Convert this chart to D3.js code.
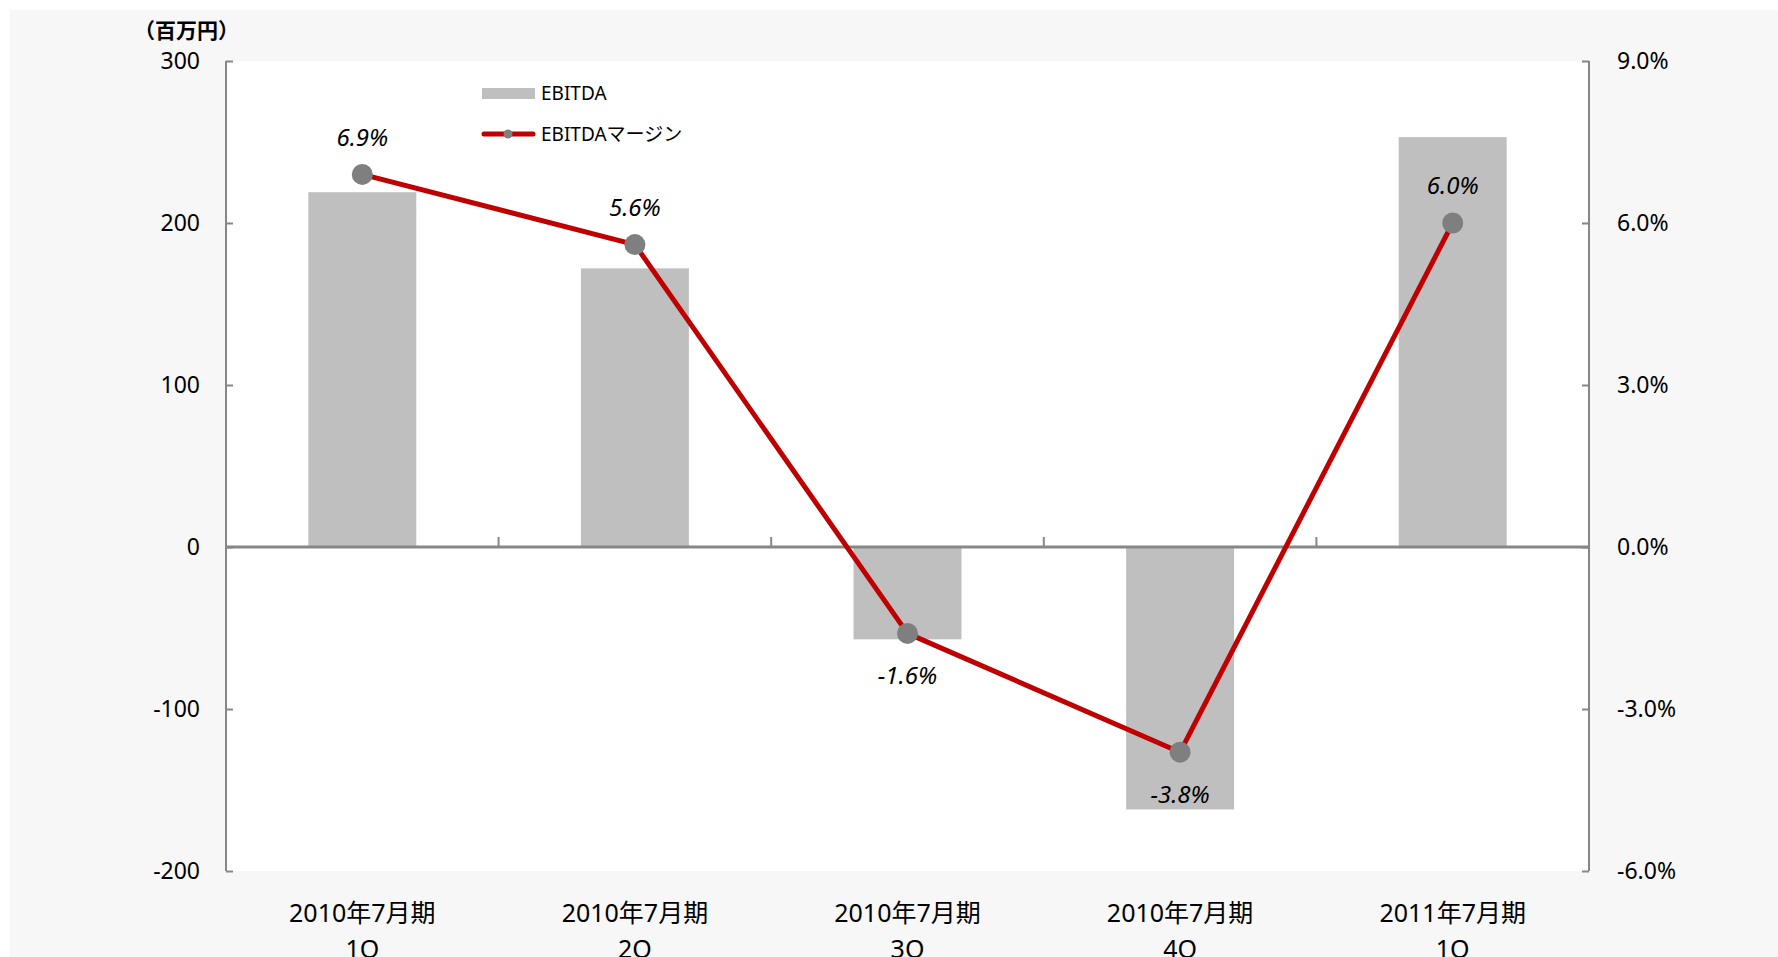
<!DOCTYPE html>
<html>
<head>
<meta charset="utf-8">
<script src="https://cdn.jsdelivr.net/npm/d3@7/dist/d3.min.js"></script>
<style>
  html, body { margin: 0; padding: 0; background: #ffffff; }
  svg { display: block; }
  text { font-family: "Noto Sans", "Noto Sans CJK JP", sans-serif; fill: #000; }
</style>
</head>
<body>
<svg id="chart" width="1778" height="957"></svg>
<script>
// ---- data ----
const categories = ["2010年7月期\n1Q", "2010年7月期\n2Q", "2010年7月期\n3Q", "2010年7月期\n4Q", "2011年7月期\n1Q"];
const ebitda = [219, 172, -57, -162, 253];          // 百万円
const margin = [6.9, 5.6, -1.6, -3.8, 6.0];         // %
const leftTicks = [-200, -100, 0, 100, 200, 300];
const rightTicks = [-6, -3, 0, 3, 6, 9];
const seriesNames = ["EBITDA", "EBITDAマージン"];
const unitLabel = "（百万円）";

// ---- layout ----
const W = 1778, H = 957;
const plot = { left: 226, right: 1589, top: 61, bottom: 871 };

const loc = d3.formatLocale({ decimal: ".", thousands: ",", grouping: [3], currency: ["", ""], minus: "-" });
const fmtInt = loc.format("d");
const fmtPct = v => loc.format(".1f")(v) + "%";

const svg = d3.select("#chart");

// backgrounds
svg.append("rect").attr("x", 10).attr("y", 10).attr("width", W - 10).attr("height", H - 10).attr("fill", "#f7f7f7");
svg.append("rect").attr("x", plot.left).attr("y", plot.top)
  .attr("width", plot.right - plot.left).attr("height", plot.bottom - plot.top).attr("fill", "#ffffff");

// scales
const x = d3.scaleBand().domain(d3.range(categories.length)).range([plot.left, plot.right]).paddingInner(0).paddingOuter(0);
const yL = d3.scaleLinear().domain([-200, 300]).range([plot.bottom, plot.top]);
const yR = d3.scaleLinear().domain([-6, 9]).range([plot.bottom, plot.top]);

const barW = x.bandwidth() * 0.396;
const axisColor = "#878787";

// bars
svg.append("g").selectAll("rect").data(ebitda).enter().append("rect")
  .attr("x", (d, i) => x(i) + x.bandwidth() / 2 - barW / 2)
  .attr("y", d => yL(Math.max(0, d)))
  .attr("width", barW)
  .attr("height", d => Math.abs(yL(d) - yL(0)))
  .attr("fill", "#bfbfbf");

// left axis (ticks inside)
const leftAxis = d3.axisRight(yL).tickValues(leftTicks).tickSize(7).tickFormat("");
const gL = svg.append("g").attr("transform", `translate(${plot.left},0)`).call(leftAxis);
gL.select(".domain").attr("stroke", axisColor).attr("stroke-width", 2).attr("d", `M0,${plot.top}V${plot.bottom}`);
gL.selectAll(".tick line").attr("stroke", axisColor).attr("stroke-width", 2);
svg.append("g").selectAll("text").data(leftTicks).enter().append("text")
  .attr("x", plot.left - 26).attr("y", d => yL(d)).attr("dy", "0.35em")
  .attr("text-anchor", "end").attr("font-size", 23).text(d => fmtInt(d));

// right axis (ticks inside)
const rightAxis = d3.axisLeft(yR).tickValues(rightTicks).tickSize(7).tickFormat("");
const gR = svg.append("g").attr("transform", `translate(${plot.right},0)`).call(rightAxis);
gR.select(".domain").attr("stroke", axisColor).attr("stroke-width", 2).attr("d", `M0,${plot.top}V${plot.bottom}`);
gR.selectAll(".tick line").attr("stroke", axisColor).attr("stroke-width", 2);
svg.append("g").selectAll("text").data(rightTicks).enter().append("text")
  .attr("x", plot.right + 28).attr("y", d => yR(d)).attr("dy", "0.35em")
  .attr("text-anchor", "start").attr("font-size", 23).text(d => fmtPct(d));

// category axis at zero
const y0 = yL(0);
svg.append("line").attr("x1", plot.left).attr("x2", plot.right).attr("y1", y0).attr("y2", y0)
  .attr("stroke", axisColor).attr("stroke-width", 3);
svg.append("g").selectAll("line").data(d3.range(1, categories.length)).enter().append("line")
  .attr("x1", i => x(i)).attr("x2", i => x(i)).attr("y1", y0).attr("y2", y0 - 10)
  .attr("stroke", axisColor).attr("stroke-width", 2);

// category labels
const catG = svg.append("g").selectAll("text").data(categories).enter().append("text")
  .attr("text-anchor", "middle").attr("font-size", 25)
  .attr("transform", (d, i) => `translate(${x(i) + x.bandwidth() / 2},0)`);
catG.each(function (d) {
  const lines = d.split("\n");
  d3.select(this).selectAll("tspan").data(lines).enter().append("tspan")
    .attr("x", 0).attr("y", (l, j) => 913 + j * 36).attr("dy", "0.35em").text(l => l);
});

// line
const lineGen = d3.line().x((d, i) => x(i) + x.bandwidth() / 2).y(d => yR(d));
svg.append("path").datum(margin).attr("d", lineGen).attr("fill", "none")
  .attr("stroke", "#c00000").attr("stroke-width", 5).attr("stroke-linejoin", "round");

// markers
svg.append("g").selectAll("circle").data(margin).enter().append("circle")
  .attr("cx", (d, i) => x(i) + x.bandwidth() / 2).attr("cy", d => yR(d)).attr("r", 10.5)
  .attr("fill", "#7f7f7f");

// data labels
svg.append("g").selectAll("text").data(margin).enter().append("text")
  .attr("x", (d, i) => x(i) + x.bandwidth() / 2)
  .attr("y", d => yR(d) + (d >= 0 ? -37 : 42)).attr("dy", "0.35em")
  .attr("text-anchor", "middle").attr("font-size", 24).attr("font-style", "italic").attr("font-weight", 400)
  .text(d => fmtPct(d));

// unit label
svg.append("text").attr("x", 134).attr("y", 31).attr("dy", "0.35em")
  .attr("font-size", 21).attr("font-weight", "bold")
  .attr("font-family", "'Noto Sans CJK JP', sans-serif").text(unitLabel);

// legend
const lg = svg.append("g");
lg.append("rect").attr("x", 482).attr("y", 88).attr("width", 53).attr("height", 11).attr("fill", "#bfbfbf");
lg.append("text").attr("x", 541).attr("y", 93.5).attr("dy", "0.35em").attr("font-size", 19).text(seriesNames[0]);
lg.append("line").attr("x1", 484).attr("x2", 533).attr("y1", 134).attr("y2", 134)
  .attr("stroke", "#c00000").attr("stroke-width", 5).attr("stroke-linecap", "round");
lg.append("circle").attr("cx", 508).attr("cy", 134).attr("r", 4.5).attr("fill", "#7f7f7f");
lg.append("text").attr("x", 541).attr("y", 134).attr("dy", "0.35em").attr("font-size", 19).text(seriesNames[1]);
</script>
</body>
</html>
